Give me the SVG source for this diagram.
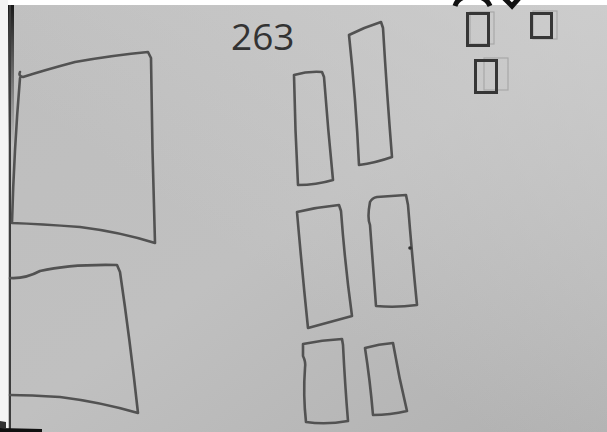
<svg xmlns="http://www.w3.org/2000/svg" width="607" height="432" viewBox="0 0 607 432">
<defs>
<linearGradient id="paper" x1="0" y1="0" x2="1" y2="1">
<stop offset="0" stop-color="#bebebe"/>
<stop offset="0.5" stop-color="#c0c0c0"/>
<stop offset="1" stop-color="#b0b0b0"/>
</linearGradient>
<linearGradient id="glow" x1="1" y1="0" x2="0.4" y2="0.6">
<stop offset="0" stop-color="#d2d2d2" stop-opacity="0.7"/>
<stop offset="1" stop-color="#d2d2d2" stop-opacity="0"/>
</linearGradient>
<linearGradient id="edge" x1="0" y1="0" x2="0" y2="1">
<stop offset="0" stop-color="#1a1a1a"/>
<stop offset="1" stop-color="#1a1a1a" stop-opacity="0"/>
</linearGradient>
</defs>
<style>
.sk{fill:none;stroke:#525252;stroke-width:2.6;stroke-linejoin:round;stroke-linecap:round}
.sq{fill:none;stroke:#363636;stroke-width:3}
.ghost{fill:none;stroke:#a8a8a8;stroke-width:1.2}
.lbl{font-family:"Open Sans","Liberation Sans",sans-serif;font-size:37px;fill:#333}
</style>
<rect x="0" y="0" width="607" height="432" fill="url(#paper)"/>
<rect x="0" y="0" width="607" height="432" fill="url(#glow)"/>
<rect x="0" y="0" width="607" height="5" fill="#ffffff"/>
<rect x="0" y="0" width="8" height="432" fill="#f4f4f4"/>
<rect x="8" y="5" width="6" height="140" fill="url(#edge)"/>
<line x1="10" y1="5" x2="10" y2="432" stroke="#3c3c3c" stroke-width="2"/>
<path d="M0,428 L42,429 L42,432 L0,432 Z" fill="#111"/>
<path d="M0,421 L6,422 L6,428 L0,428 Z" fill="#333"/>
<path d="M455,6 Q458,-4 472,-4 Q486,-4 490,6" fill="none" stroke="#111" stroke-width="5"/>
<path d="M504,-2 L512,6 L521,-4" fill="none" stroke="#111" stroke-width="5"/>
<g id="connectors"></g>
<g id="label-263"><text class="lbl" x="231" y="50">263</text></g>
<g id="box-left-top"><path class="sk" d="M20,72 Q18,76 23,77 Q45,70 75,62 Q115,55 148,52 L151,58 Q152,150 155,243 Q120,232 80,227 Q40,224 12,223 Q14,150 20,78"/></g>
<g id="box-left-bottom"><path class="sk" d="M10,278 Q25,279 40,271 Q70,264 117,265 L120,272 Q130,340 138,413 Q100,402 60,397 Q30,395 10,395"/></g>
<g id="rect-1"><path class="sk" d="M294,75 Q308,71 322,72 L324,77 Q328,130 333,180 Q316,185 298,185 Q295,130 294,75 Z"/></g>
<g id="rect-2"><path class="sk" d="M349,35 Q365,27 381,22 L383,28 Q387,95 392,157 Q375,163 359,165 Q356,100 349,35 Z"/></g>
<g id="rect-3"><path class="sk" d="M297,212 Q318,207 339,205 L341,211 Q345,265 352,316 Q330,322 308,328 Q302,270 297,212 Z"/></g>
<g id="rect-4"><path class="sk" d="M370,202 Q372,198 377,197 Q392,196 406,195 L408,205 Q412,255 417,305 Q396,308 376,306 Q373,265 370,225 Q367,218 370,202 Z"/><circle cx="410" cy="248" r="1.8" fill="#333"/></g>
<g id="rect-5"><path class="sk" d="M303,344 Q322,340 342,339 L343,345 Q345,385 348,421 Q326,425 306,422 Q303,395 305,368 Q306,362 303,356 Z"/></g>
<g id="rect-6"><path class="sk" d="M365,348 Q379,344 393,343 Q399,378 407,411 Q390,415 373,415 Q370,380 365,348 Z"/></g>
<g id="square-1"><rect class="ghost" x="470" y="12" width="24" height="32"/><rect class="sq" x="467.5" y="13.5" width="21" height="32"/></g>
<g id="square-2"><rect class="ghost" x="533" y="11" width="24" height="28"/><rect class="sq" x="531.5" y="13.5" width="20" height="24"/></g>
<g id="square-3"><rect class="ghost" x="484" y="58" width="24" height="32"/><rect class="sq" x="475.5" y="60.5" width="21" height="32"/></g>
</svg>
